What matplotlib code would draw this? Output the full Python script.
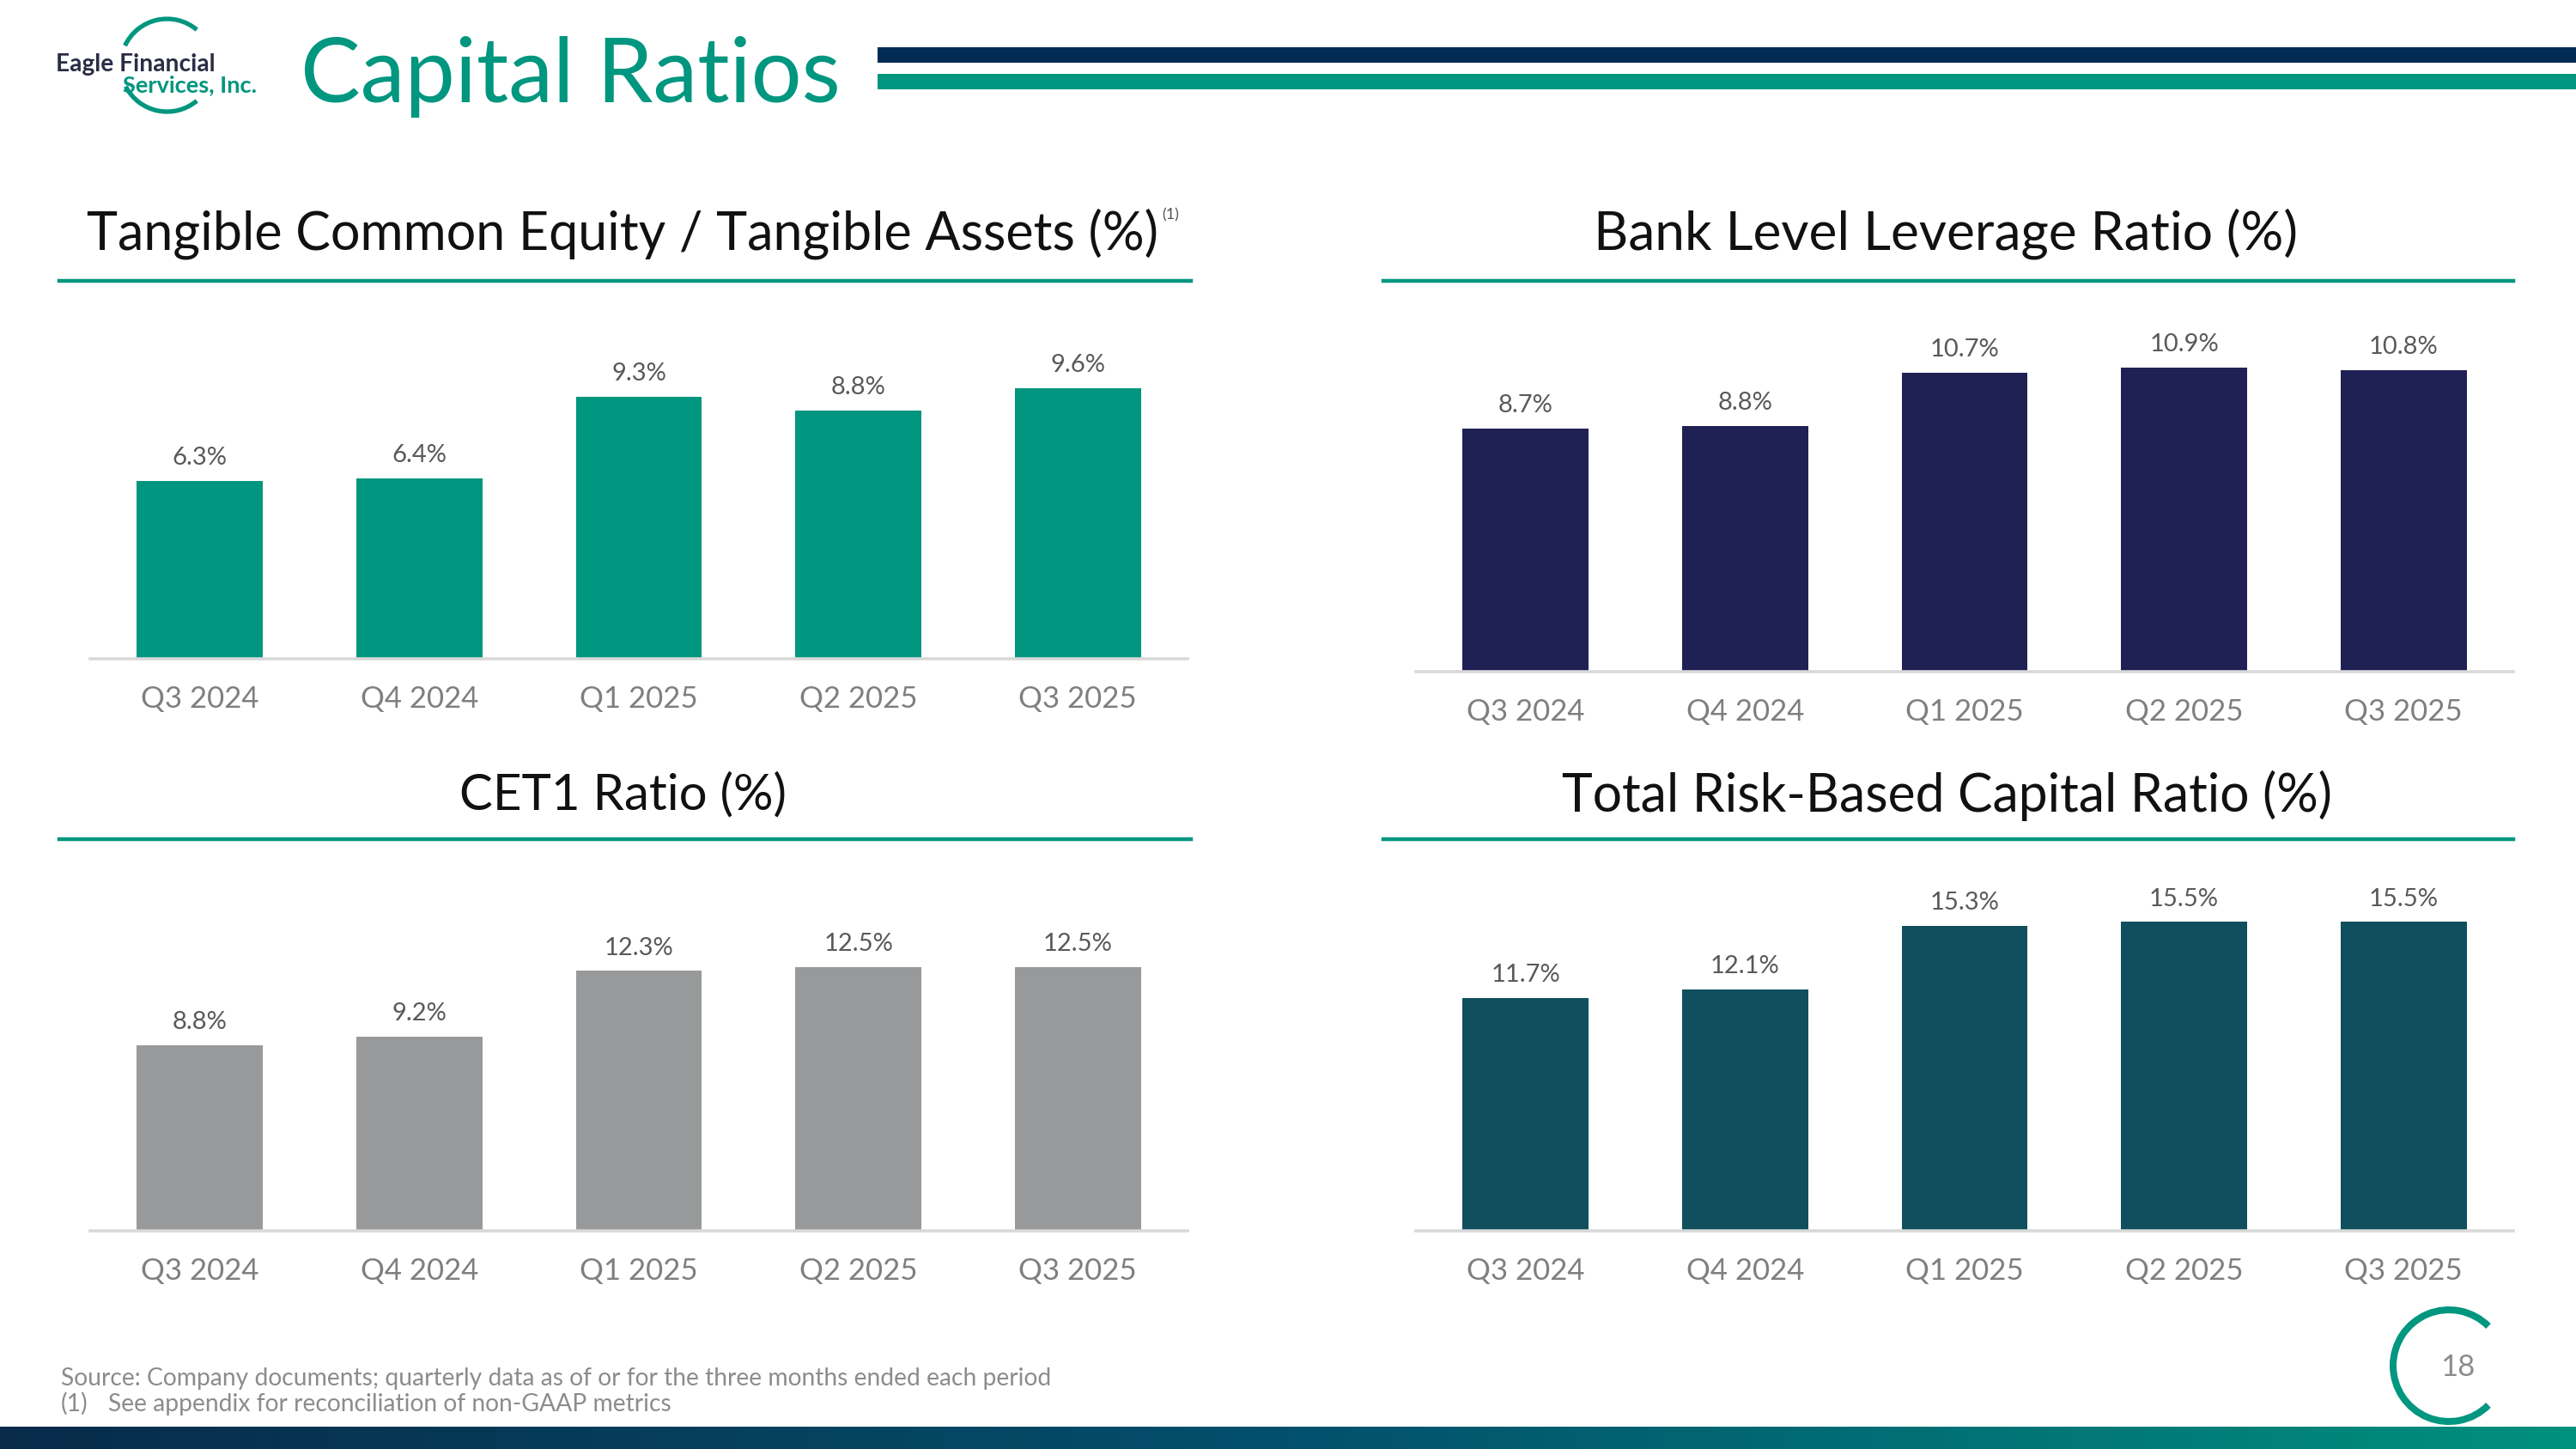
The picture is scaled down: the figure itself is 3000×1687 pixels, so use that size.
import matplotlib.pyplot as plt
import numpy as np
from matplotlib.patches import Arc, Rectangle
from matplotlib.lines import Line2D
from matplotlib.colors import LinearSegmentedColormap

plt.rcParams['font.family'] = ['Lato', 'DejaVu Sans']

# data
quarters = ['Q3 2024', 'Q4 2024', 'Q1 2025', 'Q2 2025', 'Q3 2025']
tce_ta = [6.3, 6.4, 9.3, 8.8, 9.6]
leverage = [8.7, 8.8, 10.7, 10.9, 10.8]
cet1 = [8.8, 9.2, 12.3, 12.5, 12.5]
total_rbc = [11.7, 12.1, 15.3, 15.5, 15.5]

titles = ['Tangible Common Equity / Tangible Assets (%)',
          'Bank Level Leverage Ratio (%)',
          'CET1 Ratio (%)',
          'Total Risk-Based Capital Ratio (%)']

TEAL = '#00967F'
NAVY = '#022C55'
bar_colors = [TEAL, '#1F2154', '#98999B', '#0F4F5E']

W, H = 3000, 1687
fig = plt.figure(figsize=(15, H / 200), dpi=200)
renderer = fig.canvas.get_renderer()


def fx(x):
    return x / W


def fy(y):
    return 1 - y / H


def fit(t, width_px):
    # scale font so the text spans the given pixel width
    bb = t.get_window_extent(renderer)
    t.set_fontsize(t.get_fontsize() * width_px / bb.width)


# header
t = fig.text(fx(350), fy(119), 'Capital Ratios', color=TEAL, fontsize=40,
             va='baseline', ha='left')
fit(t, 629)
fig.add_artist(Rectangle((fx(1022), fy(73)), 1 - fx(1022), 18 / H,
                         transform=fig.transFigure, color=NAVY, lw=0))
fig.add_artist(Rectangle((fx(1022), fy(104)), 1 - fx(1022), 18 / H,
                         transform=fig.transFigure, color=TEAL, lw=0))

# logo
for a, b in [(50, 155), (207, 310)]:
    fig.add_artist(Arc((194.5 / 200, (H - 76) / 200), 108 / 200, 108 / 200,
                       theta1=a, theta2=b, color=TEAL, lw=1.9,
                       transform=fig.dpi_scale_trans))
t = fig.text(fx(65), fy(83), 'Eagle Financial', color='#2A2D44', fontsize=9,
             fontweight='bold', va='baseline')
fit(t, 186)
t = fig.text(fx(143), fy(107), 'Services, Inc.', color=TEAL, fontsize=9,
             fontweight='bold', va='baseline')
fit(t, 157)

# chart panels
panels = [
    (tce_ta, 105, 1383, 767, 345, 32.8, 101, 1349, 272, 327),
    (leverage, 1649, 2927, 782, 345, 32.5, 1857, 2676, 272, 327),
    (cet1, 105, 1383, 1433, 1000, 24.6, 535, 916, 926, 977),
    (total_rbc, 1649, 2927, 1433, 1000, 23.2, 1819, 2716, 926, 977),
]

for k, (vals, x0, x1, base, top, scale, tx0, tx1, ty, ly) in enumerate(panels):
    ax = fig.add_axes([fx(x0), fy(base), (x1 - x0) / W, (base - top) / H])
    x = np.arange(len(quarters))
    ax.bar(x, vals, width=0.575, color=bar_colors[k], zorder=2)
    ax.set_xlim(-0.5, 4.5)
    ax.set_ylim(0, (base - top) / scale)
    ax.set_yticks([])
    ax.set_xticks(x, quarters)
    ax.tick_params(length=0, pad=11, labelsize=12.5, labelcolor='#7F7F7F')
    for s in ['top', 'right', 'left']:
        ax.spines[s].set_visible(False)
    ax.spines['bottom'].set_color('#D9D9D9')
    ax.spines['bottom'].set_linewidth(1.3)
    ax.patch.set_alpha(0)
    for i, v in enumerate(vals):
        ax.annotate(f'{v:.1f}%', (i, v), xytext=(0, 5), textcoords='offset points',
                    ha='center', va='bottom', fontsize=10.5, color='#595959')

    # title with underline
    lx0 = 69 if x0 < 1000 else 1611
    lx1 = 1387 if x0 < 1000 else 2927
    t = fig.text(fx((tx0 + tx1) / 2), fy(ty), titles[k], color='#111111',
                 fontsize=20, ha='center', va='center')
    fit(t, tx1 - tx0)
    fig.add_artist(Line2D([fx(lx0), fx(lx1)], [fy(ly), fy(ly)], color=TEAL, lw=1.6))

fig.text(fx(1353), fy(250), '(1)', fontsize=6.5, color='#555555', va='center')

# footnotes
t = fig.text(fx(71), fy(1613), 'Source: Company documents; quarterly data as of or for the three months ended each period',
             color='#8C8C8C', fontsize=9, va='baseline')
fit(t, 1152)
fs = t.get_fontsize()
fig.text(fx(71), fy(1643), '(1)', color='#8C8C8C', fontsize=fs, va='baseline')
fig.text(fx(126), fy(1643), 'See appendix for reconciliation of non-GAAP metrics',
         color='#8C8C8C', fontsize=fs, va='baseline')

# page number
fig.add_artist(Arc((2852 / 200, (H - 1590) / 200), 130 / 200, 130 / 200,
                   theta1=45, theta2=315, color=TEAL, lw=2.9,
                   transform=fig.dpi_scale_trans))
fig.text(fx(2862), fy(1592), '18', color='#8C8C8C', fontsize=12.5,
         ha='center', va='center')

# bottom gradient band
gax = fig.add_axes([0, 0, 1, 26 / H])
cmap = LinearSegmentedColormap.from_list('band', ['#082B4A', '#03506C', '#00907E'])
gax.imshow(np.linspace(0, 1, 300).reshape(1, -1), cmap=cmap, aspect='auto')
gax.axis('off')

fig.savefig('out.png', dpi=200)
